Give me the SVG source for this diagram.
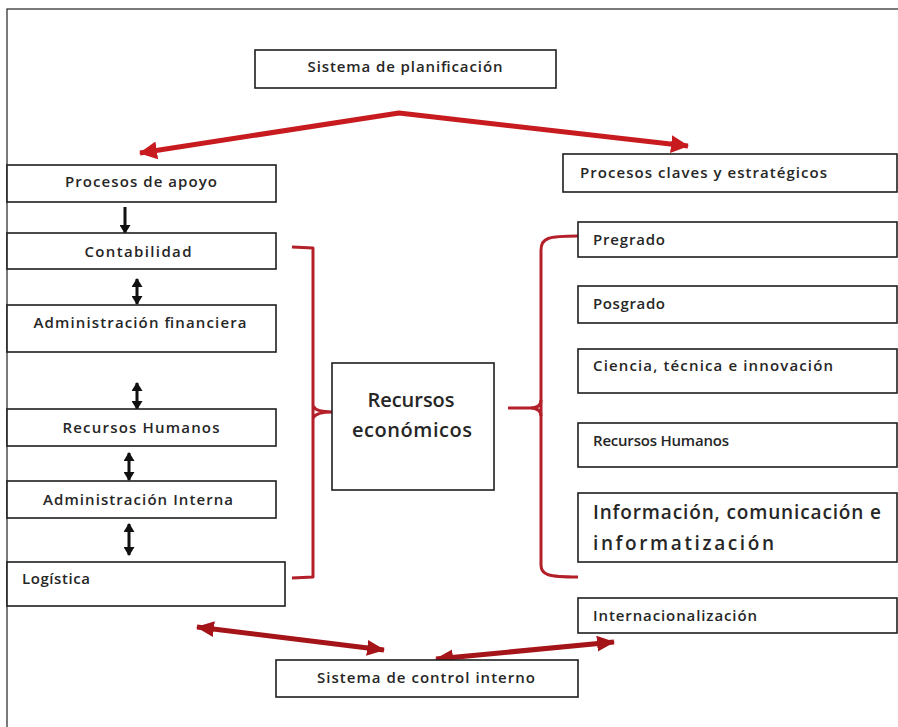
<svg xmlns="http://www.w3.org/2000/svg" width="898" height="727" viewBox="0 0 898 727">
<style>
.box{fill:#fff;stroke:#1e1e1e;stroke-width:1.6}
.t{font-family:"Open Sans","Liberation Sans",sans-serif;font-weight:600;font-size:15px;fill:#262626}
.big{font-size:19px}
.c{text-anchor:middle}
.red{fill:none;stroke:#c71b1f;stroke-width:5;stroke-linejoin:round}
.dred{fill:none;stroke:#a51419;stroke-width:5;stroke-linejoin:round}
.brk{fill:none;stroke:#b3202a;stroke-width:3;stroke-linejoin:round}
.blk{fill:none;stroke:#111;stroke-width:3}
</style>
<defs>
<marker id="ahR" viewBox="0 0 18 18" refX="17" refY="9" markerWidth="18" markerHeight="18" markerUnits="userSpaceOnUse" orient="auto-start-reverse"><path d="M0,0 L18,9 L0,18 Z" fill="#c71b1f"/></marker>
<marker id="ahD" viewBox="0 0 18 16" refX="17" refY="8" markerWidth="18" markerHeight="16" markerUnits="userSpaceOnUse" orient="auto-start-reverse"><path d="M0,0 L18,8 L0,16 Z" fill="#a51419"/></marker>
<marker id="ahK" viewBox="0 0 9 11" refX="8" refY="5.5" markerWidth="9" markerHeight="11" markerUnits="userSpaceOnUse" orient="auto-start-reverse"><path d="M0,0 L9,5.5 L0,11 Z" fill="#111"/></marker>
</defs>
<rect x="0" y="0" width="898" height="727" fill="#fff"/>
<rect x="7" y="9" width="900" height="730" fill="none" stroke="#222" stroke-width="1.2"/>

<g id="connectors">
<polyline class="red" points="140,153 399,113 688,146" marker-start="url(#ahR)" marker-end="url(#ahR)"/>
<path class="dred" d="M197,627 L384,650" marker-start="url(#ahD)" marker-end="url(#ahD)"/>
<path class="dred" d="M436,659 L614,642" marker-start="url(#ahD)" marker-end="url(#ahD)"/>
<path class="blk" d="M125,207 L125,233" marker-end="url(#ahK)"/>
<path class="blk" d="M137,279 L137,304" marker-start="url(#ahK)" marker-end="url(#ahK)"/>
<path class="blk" d="M137,383 L137,409" marker-start="url(#ahK)" marker-end="url(#ahK)"/>
<path class="blk" d="M129,453 L129,480" marker-start="url(#ahK)" marker-end="url(#ahK)"/>
<path class="blk" d="M129,524 L129,555" marker-start="url(#ahK)" marker-end="url(#ahK)"/>
<path class="brk" d="M292,247 L313,248 L313,577 L292,578"/>
<path class="brk" d="M313,406 Q316,412 332,412 M313,418 Q316,412 332,412"/>
<path class="brk" d="M578,236 C548,236 541,238 541,250 L541,565 C541,575 548,577 578,577"/>
<path class="brk" d="M508,408 L530,408 Q541,408 541,400 M530,408 Q541,408 541,416"/>
</g>

<g id="n-planificacion"><rect class="box" x="255" y="50" width="301" height="38"/><text class="t c" x="405" y="72" textLength="195" lengthAdjust="spacing">Sistema de planificación</text></g>
<g id="n-apoyo"><rect class="box" x="7" y="165" width="269" height="37"/><text class="t c" x="141" y="187" textLength="152" lengthAdjust="spacing">Procesos de apoyo</text></g>
<g id="n-contabilidad"><rect class="box" x="7" y="233" width="269" height="36"/><text class="t c" x="138" y="257" textLength="107" lengthAdjust="spacing">Contabilidad</text></g>
<g id="n-financiera"><rect class="box" x="7" y="305" width="269" height="47"/><text class="t c" x="140" y="328" textLength="213" lengthAdjust="spacing">Administración financiera</text></g>
<g id="n-rrhh-izq"><rect class="box" x="7" y="409" width="269" height="37"/><text class="t c" x="141" y="433" textLength="157" lengthAdjust="spacing">Recursos Humanos</text></g>
<g id="n-interna"><rect class="box" x="7" y="481" width="269" height="37"/><text class="t c" x="138" y="505" textLength="190" lengthAdjust="spacing">Administración Interna</text></g>
<g id="n-logistica"><rect class="box" x="7" y="562" width="278" height="44"/><text class="t" x="22" y="584" textLength="68" lengthAdjust="spacing">Logística</text></g>

<g id="n-recursos-economicos"><rect class="box" x="332" y="363" width="162" height="127"/><text class="t c" x="411" y="407" textLength="87" lengthAdjust="spacing" style="font-size:20px">Recursos</text><text class="t c" x="412" y="437" textLength="120" lengthAdjust="spacing" style="font-size:20px">económicos</text></g>

<g id="n-claves"><rect class="box" x="563" y="154" width="334" height="38"/><text class="t" x="580" y="178" textLength="247" lengthAdjust="spacing">Procesos claves y estratégicos</text></g>
<g id="n-pregrado"><rect class="box" x="578" y="222" width="319" height="35"/><text class="t" x="593" y="245" textLength="72" lengthAdjust="spacing">Pregrado</text></g>
<g id="n-posgrado"><rect class="box" x="578" y="286" width="319" height="37"/><text class="t" x="593" y="309" textLength="72" lengthAdjust="spacing">Posgrado</text></g>
<g id="n-ciencia"><rect class="box" x="578" y="349" width="319" height="44"/><text class="t" x="593" y="371" textLength="240" lengthAdjust="spacing">Ciencia, técnica e innovación</text></g>
<g id="n-rrhh-der"><rect class="box" x="578" y="423" width="319" height="44"/><text class="t" x="593" y="446" textLength="136" lengthAdjust="spacing">Recursos Humanos</text></g>
<g id="n-informacion"><rect class="box" x="578" y="493" width="319" height="69"/><text class="t big" x="593" y="519" textLength="288" lengthAdjust="spacing">Información, comunicación e</text><text class="t big" x="593" y="550" textLength="181" lengthAdjust="spacing">informatización</text></g>
<g id="n-internacionalizacion"><rect class="box" x="578" y="598" width="319" height="35"/><text class="t" x="593" y="621" textLength="164" lengthAdjust="spacing">Internacionalización</text></g>
<g id="n-control"><rect class="box" x="276" y="660" width="302" height="37"/><text class="t c" x="426" y="683" textLength="218" lengthAdjust="spacing">Sistema de control interno</text></g>
</svg>
